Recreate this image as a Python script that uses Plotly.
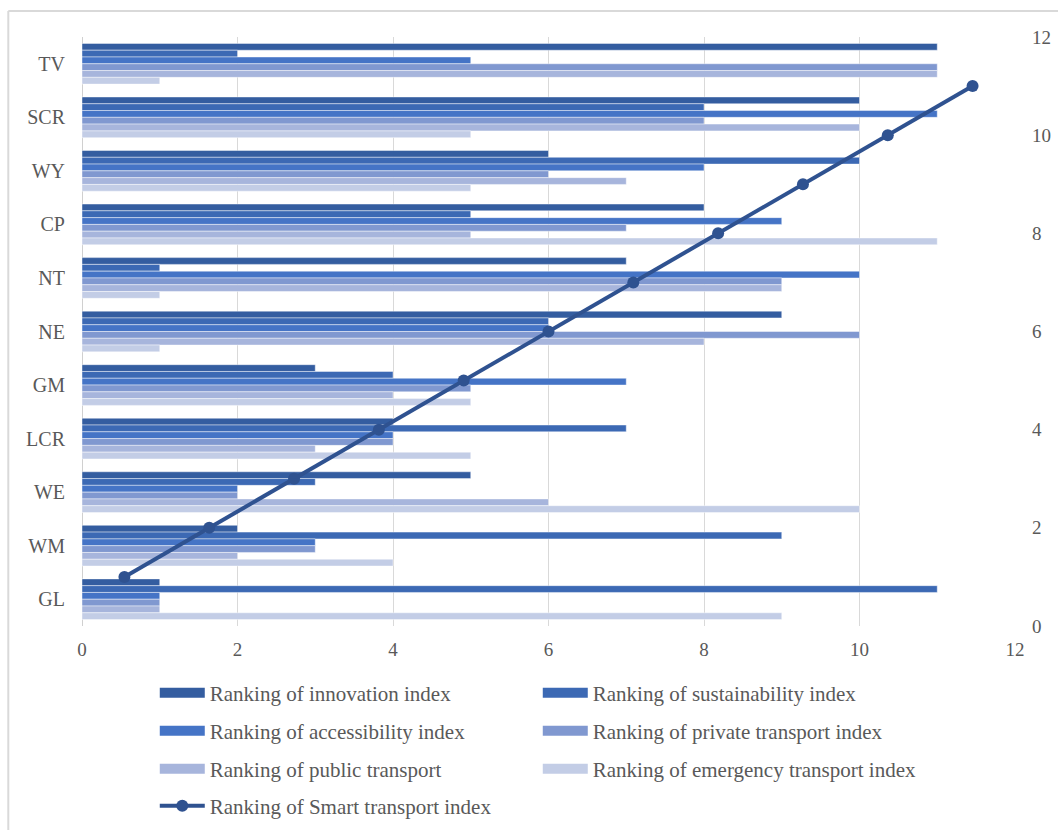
import plotly.graph_objects as go

# Regions, listed from the top of the chart to the bottom
regions = ["TV", "SCR", "WY", "CP", "NT", "NE", "GM", "LCR", "WE", "WM", "GL"]

innovation     = [11, 10, 6, 8, 7, 9, 3, 4, 5, 2, 1]
sustainability = [2, 8, 10, 5, 1, 6, 4, 7, 3, 9, 11]
accessibility  = [5, 11, 8, 9, 10, 6, 7, 4, 2, 3, 1]
private_tr     = [11, 8, 6, 7, 9, 10, 5, 4, 2, 3, 1]
public_tr      = [11, 10, 7, 5, 9, 8, 4, 3, 6, 2, 1]
emergency      = [1, 5, 5, 11, 1, 1, 5, 5, 10, 4, 9]

# Smart transport index ranking, from GL (bottom) to TV (top)
smart_regions = ["GL", "WM", "WE", "LCR", "GM", "NE", "NT", "CP", "WY", "SCR", "TV"]
smart_index   = [1, 2, 3, 4, 5, 6, 7, 8, 9, 10, 11]

x_ticks = [0, 2, 4, 6, 8, 10, 12]
y2_ticks = [0, 2, 4, 6, 8, 10, 12]

# (name, values, colour, legend row)
bar_series = [
    ("Ranking of innovation index", innovation, "#345DA0", "legend"),
    ("Ranking of sustainability index", sustainability, "#3C69B4", "legend"),
    ("Ranking of accessibility index", accessibility, "#4574C6", "legend2"),
    ("Ranking of private transport index", private_tr, "#8098D0", "legend2"),
    ("Ranking of public transport", public_tr, "#A7B5DC", "legend3"),
    ("Ranking of emergency transport index", emergency, "#C3CDE6", "legend3"),
]

FONT = "Liberation Serif, Times New Roman, serif"
GREY = "#595959"
LINE_COLOR = "#2F5290"
H = 830

fig = go.Figure()
for name, vals, color, leg in bar_series:
    fig.add_trace(go.Bar(
        y=regions, x=vals, name=name, orientation="h", legendgroup=name,
        showlegend=False,
        marker=dict(color=color, line=dict(color="rgba(255,255,255,0.55)", width=0.8)),
    ))
    # wide swatch for the legend entry
    fig.add_trace(go.Scatter(
        x=[None], y=[None], name=name, legendgroup=name, legend=leg,
        mode="lines", line=dict(color=color, width=11), hoverinfo="skip",
    ))

fig.add_trace(go.Scatter(
    x=smart_regions, y=smart_index, name="Ranking of Smart transport index",
    xaxis="x2", yaxis="y2", mode="lines+markers", legend="legend4",
    line=dict(color=LINE_COLOR, width=4),
    marker=dict(color=LINE_COLOR, size=12),
))

# one legend per row, centred on a given page row (pixels from the top)
def legend_row(y_px):
    return dict(
        orientation="h", x=0.078, xanchor="left",
        yref="container", y=1 - y_px / H, yanchor="middle",
        entrywidth=323, entrywidthmode="pixels", itemwidth=45,
        font=dict(size=21, color=GREY, family=FONT),
        bgcolor="rgba(0,0,0,0)",
    )

fig.update_layout(
    width=1058, height=H,
    margin=dict(l=82, r=43, t=37, b=204, autoexpand=False),
    paper_bgcolor="white", plot_bgcolor="white",
    font=dict(family=FONT, color=GREY, size=19),
    barmode="group", bargap=0.24, bargroupgap=0,
    showlegend=True,
    xaxis=dict(
        range=[0, 12], tickvals=x_ticks, showgrid=True, gridcolor="#D9D9D9",
        gridwidth=1, zeroline=False, showline=False, ticks="",
        tickfont=dict(size=19, color=GREY), ticklabelstandoff=10,
    ),
    yaxis=dict(
        type="category", categoryorder="array", categoryarray=regions,
        autorange="reversed", showgrid=False, zeroline=False, showline=False,
        ticks="", tickfont=dict(size=20, color=GREY), ticklabelstandoff=16,
    ),
    xaxis2=dict(
        type="category", overlaying="x", visible=False,
        categoryorder="array", categoryarray=smart_regions, range=[-0.5, 10.5],
    ),
    yaxis2=dict(
        overlaying="y", side="right", range=[0, 12], tickvals=y2_ticks,
        showgrid=False, zeroline=False, showline=False, ticks="",
        tickfont=dict(size=19, color=GREY), ticklabelstandoff=16,
    ),
    legend=legend_row(693),
    legend2=legend_row(731),
    legend3=legend_row(769),
    legend4=legend_row(806),
    shapes=[
        # 0 line of the value axis
        dict(type="line", xref="x", yref="paper", x0=0, x1=0, y0=0, y1=1,
             line=dict(color="#D0D0D0", width=2), layer="below"),
        # chart-area frame (top and left edges)
        dict(type="line", xref="paper", yref="paper", x0=-0.079, x1=1.1,
             y0=1.044, y1=1.044, line=dict(color="#D9D9D9", width=2)),
        dict(type="line", xref="paper", yref="paper", x0=-0.079, x1=-0.079,
             y0=1.044, y1=-0.4, line=dict(color="#D9D9D9", width=2)),
    ],
)

fig.write_html("out.html")
